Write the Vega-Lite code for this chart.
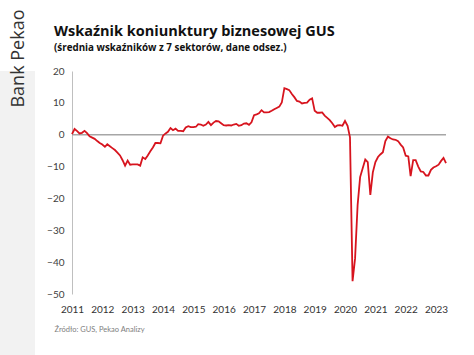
{
  "$schema": "https://vega.github.io/schema/vega-lite/v6.json",
  "padding": 0,
  "spacing": 11,
  "background": "white",
  "config": {"view": {"stroke": null}, "font": "Lato", "axis": {"labelOverlap": false}},
  "hconcat": [
    {
      "width": 35,
      "height": 355,
      "view": {"fill": "#f2f2f2", "stroke": null},
      "data": {"values": [{"label": "Bank Pekao"}]},
      "mark": {"type": "text", "angle": 270, "fontSize": 18, "color": "#333333", "dx": 190, "dy": 1, "align": "center", "baseline": "middle", "font": "Open Sans"},
      "encoding": {"text": {"field": "label"}}
    },
    {
      "width": 374,
      "height": 223,
      "title": {
        "text": ["", "Wskaźnik koniunktury biznesowej GUS"],
        "subtitle": "(średnia wskaźników z 7 sektorów, dane odsez.)",
        "anchor": "start",
        "frame": "group",
        "dx": -18,
        "fontSize": 14.5,
        "fontWeight": "bold",
        "color": "#111111",
        "lineHeight": 23,
        "subtitleFontSize": 9.8,
        "subtitleFontWeight": "bold",
        "subtitleColor": "#111111",
        "subtitlePadding": 4,
        "offset": 12,
        "font": "Open Sans",
        "subtitleFont": "Open Sans"
      },
      "data": {"values": [
        {"date": "2011-01-01", "value": 0.2}, {"date": "2011-02-01", "value": 1.8}, {"date": "2011-03-01", "value": 1.2}, {"date": "2011-04-01", "value": 0.4}, {"date": "2011-05-01", "value": 0.6}, {"date": "2011-06-01", "value": 1.2}, {"date": "2011-07-01", "value": 0.5}, {"date": "2011-08-01", "value": -0.5}, {"date": "2011-09-01", "value": -0.9}, {"date": "2011-10-01", "value": -1.3}, {"date": "2011-11-01", "value": -2.0}, {"date": "2011-12-01", "value": -2.6},
        {"date": "2012-01-01", "value": -3.1}, {"date": "2012-02-01", "value": -3.8}, {"date": "2012-03-01", "value": -3.0}, {"date": "2012-04-01", "value": -3.6}, {"date": "2012-05-01", "value": -4.2}, {"date": "2012-06-01", "value": -4.8}, {"date": "2012-07-01", "value": -5.6}, {"date": "2012-08-01", "value": -6.5}, {"date": "2012-09-01", "value": -8.0}, {"date": "2012-10-01", "value": -9.7}, {"date": "2012-11-01", "value": -8.1}, {"date": "2012-12-01", "value": -9.4},
        {"date": "2013-01-01", "value": -9.3}, {"date": "2013-02-01", "value": -9.3}, {"date": "2013-03-01", "value": -9.3}, {"date": "2013-04-01", "value": -9.7}, {"date": "2013-05-01", "value": -7.1}, {"date": "2013-06-01", "value": -7.6}, {"date": "2013-07-01", "value": -6.5}, {"date": "2013-08-01", "value": -5.2}, {"date": "2013-09-01", "value": -4.0}, {"date": "2013-10-01", "value": -2.6}, {"date": "2013-11-01", "value": -2.6}, {"date": "2013-12-01", "value": -2.7},
        {"date": "2014-01-01", "value": -0.3}, {"date": "2014-02-01", "value": 0.4}, {"date": "2014-03-01", "value": 0.9}, {"date": "2014-04-01", "value": 2.1}, {"date": "2014-05-01", "value": 1.4}, {"date": "2014-06-01", "value": 1.9}, {"date": "2014-07-01", "value": 1.2}, {"date": "2014-08-01", "value": 1.2}, {"date": "2014-09-01", "value": 1.1}, {"date": "2014-10-01", "value": 2.3}, {"date": "2014-11-01", "value": 2.7}, {"date": "2014-12-01", "value": 2.4},
        {"date": "2015-01-01", "value": 2.4}, {"date": "2015-02-01", "value": 2.5}, {"date": "2015-03-01", "value": 3.3}, {"date": "2015-04-01", "value": 3.2}, {"date": "2015-05-01", "value": 2.8}, {"date": "2015-06-01", "value": 3.2}, {"date": "2015-07-01", "value": 4.0}, {"date": "2015-08-01", "value": 3.0}, {"date": "2015-09-01", "value": 3.8}, {"date": "2015-10-01", "value": 4.3}, {"date": "2015-11-01", "value": 4.2}, {"date": "2015-12-01", "value": 3.6},
        {"date": "2016-01-01", "value": 3.0}, {"date": "2016-02-01", "value": 2.9}, {"date": "2016-03-01", "value": 3.0}, {"date": "2016-04-01", "value": 2.9}, {"date": "2016-05-01", "value": 3.2}, {"date": "2016-06-01", "value": 3.4}, {"date": "2016-07-01", "value": 2.8}, {"date": "2016-08-01", "value": 3.0}, {"date": "2016-09-01", "value": 3.5}, {"date": "2016-10-01", "value": 3.6}, {"date": "2016-11-01", "value": 3.1}, {"date": "2016-12-01", "value": 3.9},
        {"date": "2017-01-01", "value": 6.1}, {"date": "2017-02-01", "value": 6.4}, {"date": "2017-03-01", "value": 6.7}, {"date": "2017-04-01", "value": 7.7}, {"date": "2017-05-01", "value": 7.0}, {"date": "2017-06-01", "value": 7.0}, {"date": "2017-07-01", "value": 7.1}, {"date": "2017-08-01", "value": 7.5}, {"date": "2017-09-01", "value": 8.0}, {"date": "2017-10-01", "value": 8.4}, {"date": "2017-11-01", "value": 8.8}, {"date": "2017-12-01", "value": 10.1},
        {"date": "2018-01-01", "value": 14.6}, {"date": "2018-02-01", "value": 14.3}, {"date": "2018-03-01", "value": 14.0}, {"date": "2018-04-01", "value": 12.8}, {"date": "2018-05-01", "value": 11.8}, {"date": "2018-06-01", "value": 10.6}, {"date": "2018-07-01", "value": 10.4}, {"date": "2018-08-01", "value": 9.8}, {"date": "2018-09-01", "value": 10.0}, {"date": "2018-10-01", "value": 10.1}, {"date": "2018-11-01", "value": 11.0}, {"date": "2018-12-01", "value": 11.4},
        {"date": "2019-01-01", "value": 7.5}, {"date": "2019-02-01", "value": 6.9}, {"date": "2019-03-01", "value": 6.9}, {"date": "2019-04-01", "value": 7.0}, {"date": "2019-05-01", "value": 6.0}, {"date": "2019-06-01", "value": 5.3}, {"date": "2019-07-01", "value": 4.6}, {"date": "2019-08-01", "value": 3.6}, {"date": "2019-09-01", "value": 2.4}, {"date": "2019-10-01", "value": 2.9}, {"date": "2019-11-01", "value": 3.0}, {"date": "2019-12-01", "value": 2.8},
        {"date": "2020-01-01", "value": 4.3}, {"date": "2020-02-01", "value": 2.8}, {"date": "2020-03-01", "value": -0.8}, {"date": "2020-04-01", "value": -46.0}, {"date": "2020-05-01", "value": -38.9}, {"date": "2020-06-01", "value": -22.0}, {"date": "2020-07-01", "value": -13.3}, {"date": "2020-08-01", "value": -10.5}, {"date": "2020-09-01", "value": -7.8}, {"date": "2020-10-01", "value": -8.6}, {"date": "2020-11-01", "value": -18.9}, {"date": "2020-12-01", "value": -11.8},
        {"date": "2021-01-01", "value": -8.6}, {"date": "2021-02-01", "value": -7.0}, {"date": "2021-03-01", "value": -6.2}, {"date": "2021-04-01", "value": -5.5}, {"date": "2021-05-01", "value": -2.0}, {"date": "2021-06-01", "value": -0.6}, {"date": "2021-07-01", "value": -1.1}, {"date": "2021-08-01", "value": -1.5}, {"date": "2021-09-01", "value": -1.6}, {"date": "2021-10-01", "value": -2.0}, {"date": "2021-11-01", "value": -3.1}, {"date": "2021-12-01", "value": -4.0},
        {"date": "2022-01-01", "value": -6.6}, {"date": "2022-02-01", "value": -6.8}, {"date": "2022-03-01", "value": -13.0}, {"date": "2022-04-01", "value": -8.0}, {"date": "2022-05-01", "value": -8.0}, {"date": "2022-06-01", "value": -10.0}, {"date": "2022-07-01", "value": -11.5}, {"date": "2022-08-01", "value": -11.7}, {"date": "2022-09-01", "value": -12.8}, {"date": "2022-10-01", "value": -12.8}, {"date": "2022-11-01", "value": -11.0}, {"date": "2022-12-01", "value": -10.3},
        {"date": "2023-01-01", "value": -9.9}, {"date": "2023-02-01", "value": -9.4}, {"date": "2023-03-01", "value": -8.3}, {"date": "2023-04-01", "value": -7.3}, {"date": "2023-05-01", "value": -8.9}
      ]},
      "encoding": {
        "y": {
          "field": "value",
          "type": "quantitative",
          "scale": {"domain": [-50, 20], "nice": false},
          "axis": {
            "values": [-50, -40, -30, -20, -10, 0, 10, 20],
            "domain": true,
            "domainColor": "#bfbfbf",
            "domainWidth": 1,
            "ticks": false,
            "grid": false,
            "labelFontSize": 10,
            "labelColor": "#404040",
            "labelPadding": 8,
            "labelOverlap": false,
            "title": null
          }
        }
      },
      "layer": [
        {
          "data": {"values": [{"value": 0}]},
          "mark": {"type": "rule", "color": "#a6a6a6", "strokeWidth": 1.5}
        },
        {
          "mark": {"type": "line", "color": "#d7141e", "strokeWidth": 1.8},
          "encoding": {
            "x": {
              "field": "date",
              "type": "temporal",
              "scale": {"type": "utc", "domain": [{"year": 2011, "month": 1, "date": 1, "utc": true}, {"year": 2023, "month": 5, "date": 1, "utc": true}]},
              "axis": {
                "format": "%Y",
                "tickCount": {"interval": "year", "step": 1},
                "domain": false,
                "ticks": false,
                "grid": false,
                "labelFontSize": 10,
                "labelColor": "#333333",
                "labelPadding": 10,
                "labelFlush": false,
                "labelOverlap": false,
                "title": "Źródło: GUS, Pekao Analizy",
                "titleX": -18,
                "titleAlign": "left",
                "titleAnchor": "start",
                "titleFontSize": 7.5,
                "titleFontWeight": "normal",
                "titleColor": "#808080",
                "titlePadding": 11
              }
            }
          }
        }
      ]
    }
  ]
}
